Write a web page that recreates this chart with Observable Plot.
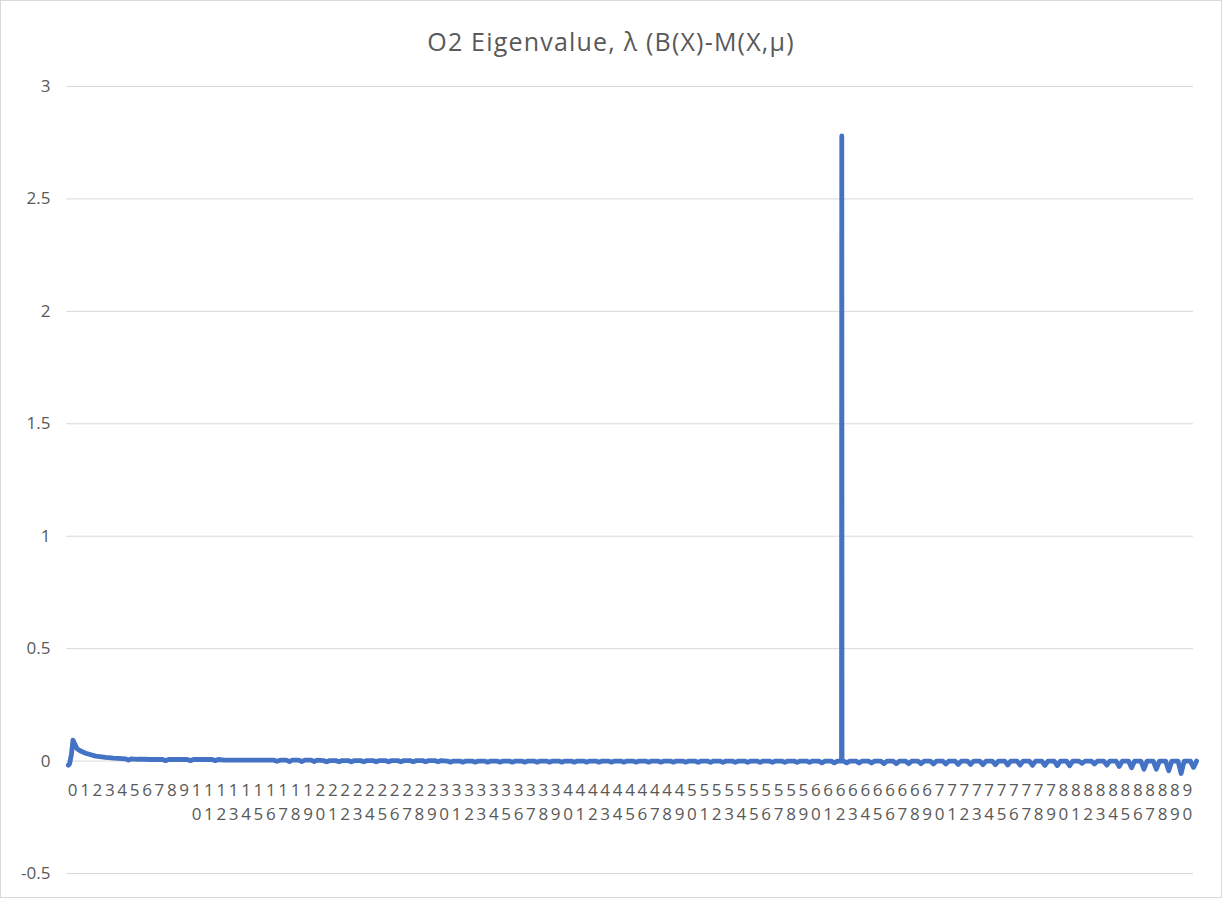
<!DOCTYPE html>
<html><head><meta charset="utf-8">
<script src="https://cdn.jsdelivr.net/npm/d3@7"></script>
<script src="https://cdn.jsdelivr.net/npm/@observablehq/plot@0.6"></script>
<style>
body{margin:0;background:#fff}
#wrap{position:relative;width:1222px;height:898px;}
#chart{position:absolute;left:0;top:0}
#title{position:absolute;top:24px;left:0;width:1222px;text-align:center;font-family:"Open Sans",sans-serif;font-size:25px;letter-spacing:1.2px;line-height:34px;color:#595959}
#frame{position:absolute;left:0;top:0;width:1220px;height:896px;border:1px solid #d9d9d9;pointer-events:none}
</style></head><body>
<div id="wrap"><div id="chart"></div><div id="title">O2 Eigenvalue, λ (B(X)-M(X,μ)</div><div id="frame"></div></div>
<script>
// Category labels (x axis)
const categories = [0,1,2,3,4,5,6,7,8,9,10,11,12,13,14,15,16,17,18,19,20,21,22,23,24,25,26,27,28,29,30,
  31,32,33,34,35,36,37,38,39,40,41,42,43,44,45,46,47,48,49,50,51,52,53,54,55,56,57,58,59,60,
  61,62,63,64,65,66,67,68,69,70,71,72,73,74,75,76,77,78,79,80,81,82,83,84,85,86,87,88,89,90];
// Y tick values
const yTicks = [-0.5,0,0.5,1,1.5,2,2.5,3];

// Opening transient (position in category units, value)
const startX = [-0.35,-0.25,-0.1,0.02,0.35,0.6,1.05,1.85,2.65,3.3,4.0];
const startY = [-0.018,-0.012,0.03,0.093,0.055,0.046,0.035,0.022,0.016,0.013,0.011];

// Value of the series between the small notches, per category
const level = [0,0,0,0,0.010,0.008,0.007,0.007,0.007,0.007,0.007,0.007,
  0.004,0.004,0.004,0.004,0.004,0.004,0.004,0.004,
  0.002,0.002,0.002,0.002,0.002,0.002,0.002,0.002,0.002,0.002,
  0,0,0,0,0,0,0,0,0,0,0,0,0,0,0,0,0,0,0,0,0,0,0,0,0,0,0,0,0,0,0,
  0,0,0,0,0,0,0,0,0,0,0,0,0,0,0,0,0,0,0,0,0,0,0,0,0,0,0,0,0,0];
// Value at the small notch inside each category
const dip = [0,0,0,0,0.004,0.008,0.007,0.002,0.007,0.002,0.007,0.002,
  0.004,0.004,0.004,0.004,-0.001,-0.002,-0.002,-0.002,
  -0.003,-0.003,-0.003,-0.003,-0.003,-0.003,-0.003,-0.003,-0.003,-0.003,
  -0.005,-0.005,-0.005,-0.005,-0.005,-0.005,-0.005,-0.005,-0.005,-0.005,
  -0.005,-0.005,-0.005,-0.005,-0.005,-0.005,-0.005,-0.005,-0.005,-0.005,
  -0.006,-0.006,-0.006,-0.006,-0.006,-0.006,-0.006,-0.006,-0.006,-0.006,
  -0.008,-0.008,-0.008,-0.009,-0.009,
  -0.011,-0.011,-0.012,-0.012,-0.013,-0.013,
  -0.015,-0.015,-0.016,-0.016,-0.017,
  -0.018,-0.019,-0.019,-0.02,-0.021,
  -0.01,-0.013,-0.018,-0.024,-0.03,-0.036,-0.036,-0.043,-0.055,-0.028];

// The single large spike
const spikeX = [62.08,62.1,62.12];
const spikeY = [0,2.78,0];

// Build the line table from the arrays above
const pts = startX.map((x,i)=>({x, y:startY[i]}));
for (let i = 4; i < categories.length; i++) {
  pts.push({x:i+0.25, y:level[i]}, {x:i+0.5, y:dip[i]}, {x:i+0.75, y:level[i]});
}
spikeX.forEach((x,i)=>pts.push({x, y:spikeY[i]}));
pts.sort((a,b)=>a.x-b.x);

const chart = Plot.plot({
  width:1222, height:898,
  marginTop:86, marginBottom:25, marginLeft:66, marginRight:29,
  x:{domain:[-0.5,90.5], axis:null, label:null},
  y:{domain:[-0.5,3], axis:null, label:null},
  style:{fontFamily:'"Open Sans", sans-serif', background:"transparent", overflow:"visible"},
  marks:[
    Plot.gridY(yTicks,{stroke:"#d9d9d9", strokeOpacity:1, strokeWidth:1}),
    Plot.axisY(yTicks,{tickSize:0, tickPadding:16, fontSize:17, fill:"#595959", label:null, tickFormat:d=>String(d)}),
    Plot.text(categories,{x:d=>d, y:()=>0, text:d=>String(d).split("").join("\n"),
      lineAnchor:"top", dy:17, lineHeight:1.45, fontSize:17, fill:"#595959"}),
    Plot.line(pts,{x:"x", y:"y", stroke:"#4472c4", strokeWidth:4.8, strokeLinejoin:"round", strokeLinecap:"round"})
  ]
});
document.getElementById("chart").appendChild(chart);
</script>
</body></html>
